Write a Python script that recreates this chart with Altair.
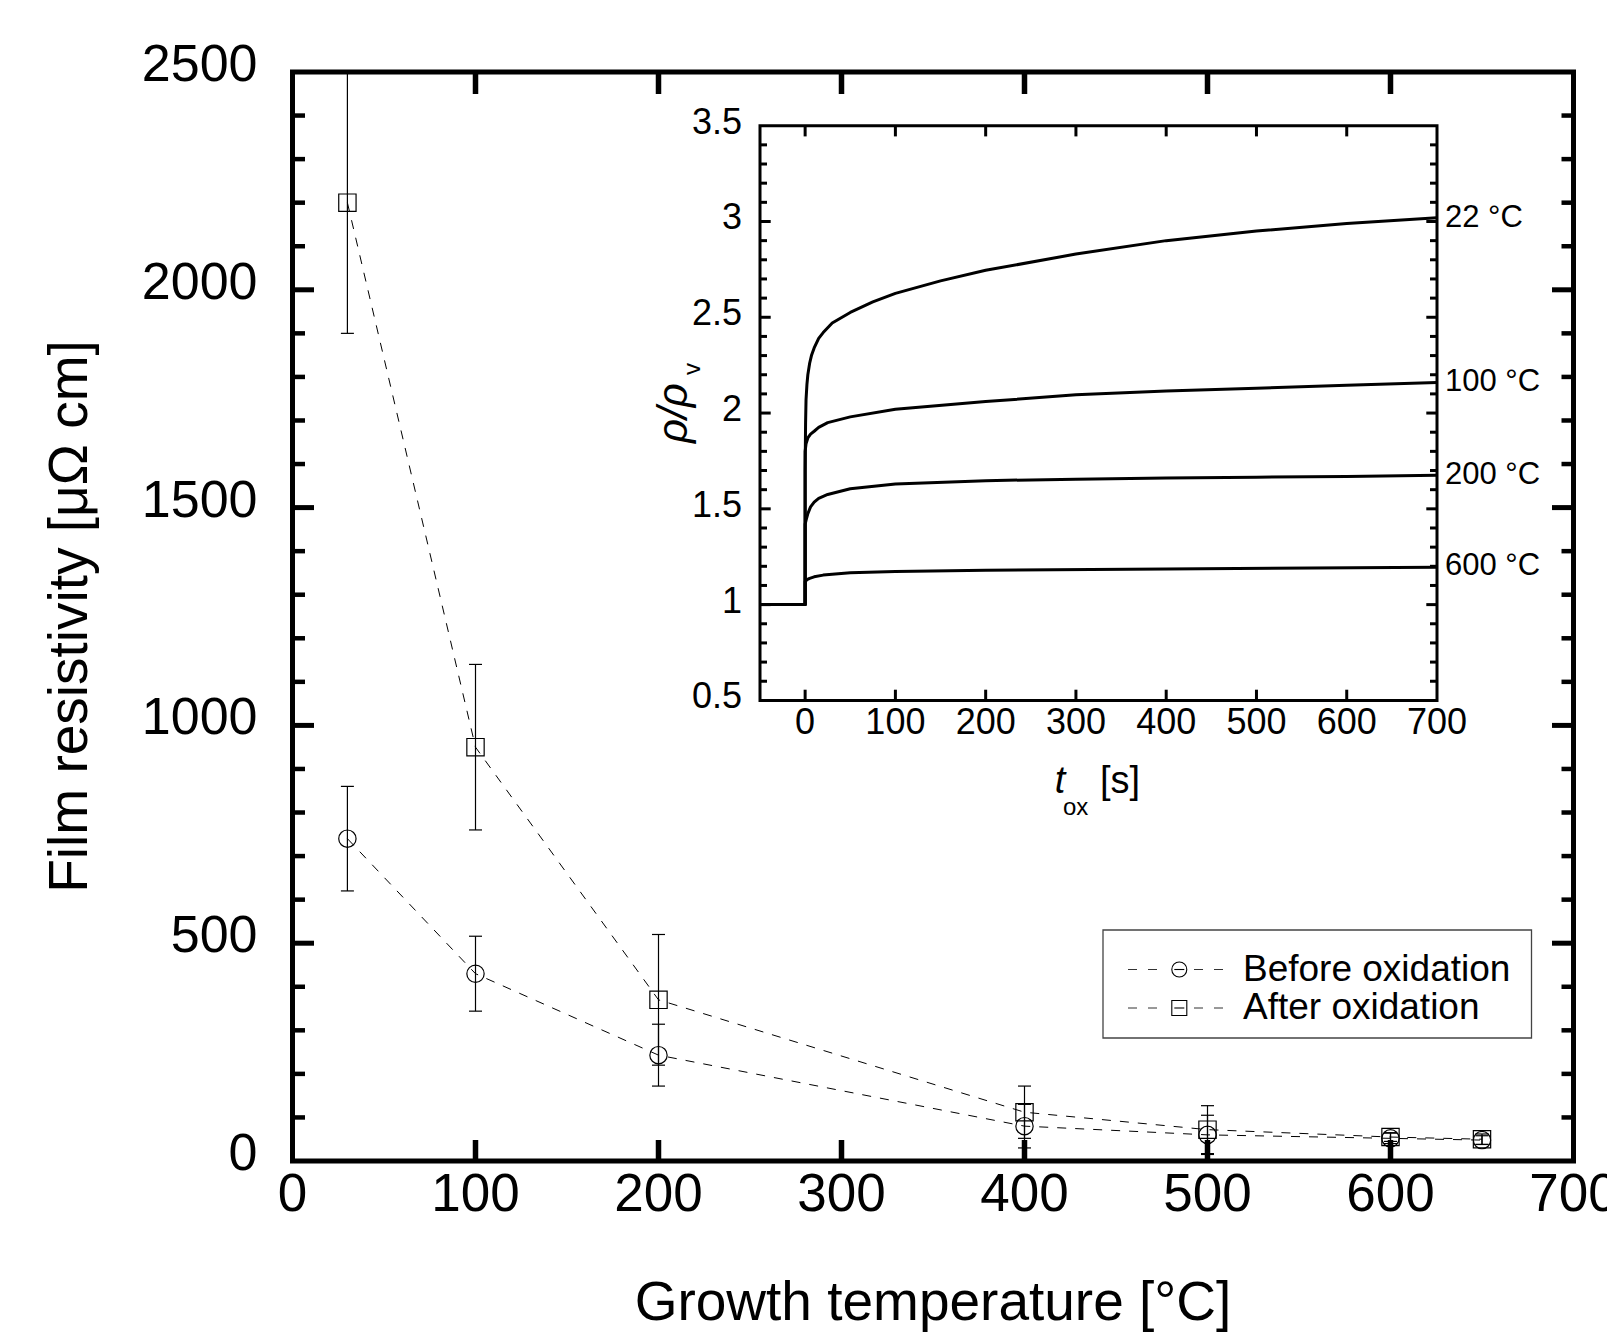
import altair as alt
import pandas as pd

# ---------------- main chart data ----------------
temps = [30, 100, 200, 400, 500, 600, 650]
before_vals = [740, 430, 243, 80, 60, 52, 48]
before_errs = [120, 86, 71, 50, 45, 12, 10]
after_vals = [2200, 950, 370, 112, 72, 55, 50]
after_errs = [300, 190, 150, 60, 55, 10, 12]
series_names = ["Before oxidation", "After oxidation"]
series_shapes = ["circle", "square"]

x_label_values = [0, 100, 200, 300, 400, 500, 600, 700]
y_label_values = [0, 500, 1000, 1500, 2000, 2500]
x_major_ticks = [100, 200, 300, 400, 500, 600]
y_major_ticks = [500, 1000, 1500, 2000]
y_minor_ticks = [v for v in range(100, 2500, 100) if v % 500]
x_title = "Growth temperature [°C]"
y_title = "Film resistivity [μΩ cm]"

# ---------------- inset data ----------------
t22 = [-50, 0, 0, 0.5, 1, 2, 3, 5, 7, 10, 15, 20, 30, 50, 75, 100, 150, 200, 300, 400, 500, 600, 700]
v22 = [1, 1, 1.7, 1.95, 2.07, 2.15, 2.2, 2.26, 2.3, 2.34, 2.39, 2.42, 2.47, 2.525, 2.58, 2.625, 2.69, 2.745, 2.83, 2.9, 2.95, 2.99, 3.02]
t100 = [-50, 0, 0, 1, 3, 6, 10, 15, 25, 50, 100, 200, 300, 400, 500, 600, 700]
v100 = [1, 1, 1.8, 1.84, 1.87, 1.89, 1.905, 1.925, 1.95, 1.98, 2.02, 2.06, 2.095, 2.115, 2.13, 2.145, 2.16]
t200 = [-50, 0, 0, 1, 3, 6, 10, 15, 25, 50, 100, 200, 300, 400, 500, 600, 700]
v200 = [1, 1, 1.42, 1.44, 1.475, 1.51, 1.535, 1.555, 1.575, 1.605, 1.63, 1.647, 1.655, 1.661, 1.665, 1.669, 1.675]
t600 = [-50, 0, 0, 2, 5, 10, 20, 50, 100, 200, 400, 700]
v600 = [1, 1, 1.12, 1.13, 1.137, 1.145, 1.154, 1.166, 1.173, 1.18, 1.186, 1.195]
curve_names = ["22 °C", "100 °C", "200 °C", "600 °C"]
curve_label_y = [3.02, 2.16, 1.677, 1.199]

inset_x_labels = [0, 100, 200, 300, 400, 500, 600, 700]
inset_x_ticks = [0, 100, 200, 300, 400, 500, 600]
inset_y_labels = [0.5, 1, 1.5, 2, 2.5, 3, 3.5]
inset_y_label_text = ["0.5", "1", "1.5", "2", "2.5", "3", "3.5"]
inset_y_major = [1, 1.5, 2, 2.5, 3]
inset_y_minor = [round(0.5 + 0.1 * i, 1) for i in range(1, 30) if i % 5]

# ---------------- layout ----------------
W, H = 1281, 1089
FONT = "Liberation Sans"

# ---------------- main layers ----------------
rows = []
for name, vals, errs in [(series_names[0], before_vals, before_errs),
                         (series_names[1], after_vals, after_errs)]:
    for t, v, e in zip(temps, vals, errs):
        rows.append({"temp": t, "value": v, "err": e, "series": name})
main_df = pd.DataFrame(rows)

xs = alt.Scale(domain=[0, 700], nice=False, zero=False)
ys = alt.Scale(domain=[0, 2500], nice=False, zero=False)

base = alt.Chart(main_df).transform_calculate(
    lo="datum.value - datum.err", hi="datum.value + datum.err")

X = alt.X("temp:Q", scale=xs, axis=None)

lines = base.mark_line(strokeDash=[9, 9], strokeWidth=1, color="black").encode(
    x=X, y=alt.Y("value:Q", scale=ys, axis=None), detail="series:N")
err = base.mark_rule(strokeWidth=1.2, color="black").encode(
    x=X, y=alt.Y("lo:Q", scale=ys, axis=None), y2="hi:Q")
cap_hi = base.mark_rule(strokeWidth=1.2, color="black", xOffset=-6.5, x2Offset=6.5).encode(
    x=X, x2="temp:Q", y=alt.Y("hi:Q", scale=ys, axis=None))
cap_lo = base.mark_rule(strokeWidth=1.2, color="black", xOffset=-6.5, x2Offset=6.5).encode(
    x=X, x2="temp:Q", y=alt.Y("lo:Q", scale=ys, axis=None))
points = base.mark_point(filled=False, size=300, strokeWidth=1.2, color="black", opacity=1).encode(
    x=X, y=alt.Y("value:Q", scale=ys, axis=None),
    shape=alt.Shape("series:N", scale=alt.Scale(domain=series_names, range=series_shapes), legend=None))

ymaj_df = pd.DataFrame({"v": y_major_ticks})
ymin_df = pd.DataFrame({"v": y_minor_ticks})
xmaj_df = pd.DataFrame({"v": x_major_ticks})


def yticks(df, x0, x1, w):
    return alt.Chart(df).mark_rule(strokeWidth=w, color="black").encode(
        y=alt.Y("v:Q", scale=ys, axis=None), x=alt.value(x0), x2=alt.value(x1))


def xticks(df, y0, y1, w):
    return alt.Chart(df).mark_rule(strokeWidth=w, color="black").encode(
        x=alt.X("v:Q", scale=xs, axis=None), y=alt.value(y0), y2=alt.value(y1))


main_ticks = [
    yticks(ymaj_df, 0, 21.5, 5), yticks(ymin_df, 0, 12.5, 4.5),
    yticks(ymaj_df, W, W - 21.5, 5), yticks(ymin_df, W, W - 12, 4.5),
    xticks(xmaj_df, H, H - 21, 5.5), xticks(xmaj_df, 0, 22, 5.5),
]

main_frame = alt.Chart(pd.DataFrame({"a": [0]})).mark_rect(
    filled=False, stroke="black", strokeWidth=5).encode(
    x=alt.value(0), x2=alt.value(W), y=alt.value(0), y2=alt.value(H))

xl_df = pd.DataFrame({"v": x_label_values, "lab": [str(v) for v in x_label_values]})
yl_df = pd.DataFrame({"v": y_label_values, "lab": [str(v) for v in y_label_values]})
x_labels = alt.Chart(xl_df).mark_text(fontSize=53, font=FONT, baseline="top", dy=8,
                                      color="black").encode(
    x=alt.X("v:Q", scale=xs, axis=None), y=alt.value(H), text="lab:N")
y_labels = alt.Chart(yl_df).mark_text(fontSize=52, font=FONT, baseline="middle", align="right",
                                      dx=-35, dy=-7, color="black").encode(
    y=alt.Y("v:Q", scale=ys, axis=None), x=alt.value(0), text="lab:N")

main = alt.layer(main_frame, lines, err, cap_hi, cap_lo, points, *main_ticks, x_labels, y_labels)

# ---------------- inset layers ----------------
ixs = alt.Scale(domain=[-50, 700], range=[467.5, 1144.5], nice=False, zero=False)
iys = alt.Scale(domain=[0.5, 3.5], range=[628.4, 53.7], nice=False, zero=False)

crow = []
for name, ts, vs in zip(curve_names, [t22, t100, t200, t600], [v22, v100, v200, v600]):
    for i, (t, v) in enumerate(zip(ts, vs)):
        crow.append({"series": name, "t": t, "v": v, "idx": i})
curve_df = pd.DataFrame(crow)

frame = alt.Chart(pd.DataFrame({"a": [0]})).mark_rect(
    filled=False, stroke="black", strokeWidth=3).encode(
    x=alt.XDatum(-50, scale=ixs, axis=None), x2=alt.X2Datum(700),
    y=alt.YDatum(0.5, scale=iys, axis=None), y2=alt.Y2Datum(3.5))

curves = alt.Chart(curve_df).mark_line(strokeWidth=3, color="black", strokeJoin="round").encode(
    x=alt.X("t:Q", scale=ixs, axis=None),
    y=alt.Y("v:Q", scale=iys, axis=None),
    detail="series:N", order="idx:Q")

ixt_df = pd.DataFrame({"v": inset_x_ticks})
iymaj_df = pd.DataFrame({"v": inset_y_major})
iymin_df = pd.DataFrame({"v": inset_y_minor})


def ix_ticks(yd, off):
    return alt.Chart(ixt_df).mark_rule(strokeWidth=3, color="black", y2Offset=off).encode(
        x=alt.X("v:Q", scale=ixs, axis=None),
        y=alt.YDatum(yd, scale=iys, axis=None), y2=alt.Y2Datum(yd))


def iy_ticks(df, xd, off):
    return alt.Chart(df).mark_rule(strokeWidth=3, color="black", x2Offset=off).encode(
        y=alt.Y("v:Q", scale=iys, axis=None),
        x=alt.XDatum(xd, scale=ixs, axis=None), x2=alt.X2Datum(xd))


inset_ticks = [
    ix_ticks(3.5, 10.7), ix_ticks(0.5, -10.7),
    iy_ticks(iymaj_df, -50, 10.7), iy_ticks(iymin_df, -50, 7),
    iy_ticks(iymaj_df, 700, -10.7), iy_ticks(iymin_df, 700, -7),
]

ixl_df = pd.DataFrame({"v": inset_x_labels, "lab": [str(v) for v in inset_x_labels]})
iyl_df = pd.DataFrame({"v": inset_y_labels, "lab": inset_y_label_text})
cl_df = pd.DataFrame({"v": curve_label_y, "lab": curve_names})

ix_lab = alt.Chart(ixl_df).mark_text(fontSize=36, font=FONT, baseline="middle", dy=23, color="black").encode(
    x=alt.X("v:Q", scale=ixs, axis=None), y=alt.YDatum(0.5, scale=iys, axis=None), text="lab:N")
iy_lab = alt.Chart(iyl_df).mark_text(fontSize=36, font=FONT, baseline="middle", align="right",
                                     dx=-18, dy=-3, color="black").encode(
    y=alt.Y("v:Q", scale=iys, axis=None), x=alt.XDatum(-50, scale=ixs, axis=None), text="lab:N")
c_lab = alt.Chart(cl_df).mark_text(fontSize=31, font=FONT, baseline="middle", align="left",
                                   dx=8, color="black").encode(
    y=alt.Y("v:Q", scale=iys, axis=None), x=alt.XDatum(700, scale=ixs, axis=None), text="lab:N")

inset = alt.layer(frame, curves, *inset_ticks, ix_lab, iy_lab, c_lab)

# ---------------- annotations (titles, legend) ----------------
one = pd.DataFrame({"a": [0]})


def txt(s, x, y, size, **kw):
    return alt.Chart(one).mark_text(text=s, fontSize=size, font=FONT, color="black", **kw).encode(
        x=alt.value(x), y=alt.value(y))


annots = [
    txt(x_title, W / 2, 1248, 55, align="center", baseline="alphabetic"),
    txt(y_title, -206, H / 2, 55, align="center", baseline="alphabetic", angle=270),
    txt("t", 767.5, 721, 38, fontStyle="italic", align="center", baseline="alphabetic"),
    txt("ox", 770.5, 743, 24, align="left", baseline="alphabetic"),
    txt("[s]", 807.5, 721, 38, align="left", baseline="alphabetic"),
    txt("ρ/ρ", 381.5, 341, 42, fontStyle="italic", align="center", baseline="middle", angle=270),
    txt("v", 400, 297, 24, align="center", baseline="middle", angle=270),
]

legend_box = alt.Chart(one).mark_rect(filled=False, stroke="#444444", strokeWidth=1.3).encode(
    x=alt.value(810.5), x2=alt.value(1239), y=alt.value(858), y2=alt.value(966))
legend_layers = [legend_box]
for name, shape, ry in zip(series_names, series_shapes, [897.5, 936]):
    legend_layers += [
        alt.Chart(one).mark_rule(strokeDash=[9, 11], strokeWidth=1, color="#333333").encode(
            x=alt.value(835.5), x2=alt.value(873), y=alt.value(ry)),
        alt.Chart(one).mark_rule(strokeDash=[9, 11], strokeWidth=1, color="#333333").encode(
            x=alt.value(901.5), x2=alt.value(940.5), y=alt.value(ry)),
        alt.Chart(one).mark_point(shape=shape, size=225, filled=False, strokeWidth=1.1,
                                  color="black", opacity=1).encode(
            x=alt.value(886.8), y=alt.value(ry)),
        alt.Chart(one).mark_rule(strokeWidth=1.1, color="black").encode(
            x=alt.value(881.8), x2=alt.value(891.8), y=alt.value(ry)),
        txt(name, 950.5, ry, 37, align="left", baseline="middle"),
    ]

annot = alt.layer(*annots, *legend_layers)

chart = alt.layer(main, inset, annot).resolve_scale(
    x="independent", y="independent"
).properties(
    width=W, height=H,
    autosize=alt.AutoSizeParams(type="none"),
    padding={"left": 284.5, "top": 64, "right": 33, "bottom": 172},
).configure(
    font=FONT, background="white"
).configure_view(
    strokeOpacity=0
)

chart.save("out.html", embed_options={"renderer": "svg", "actions": False})
